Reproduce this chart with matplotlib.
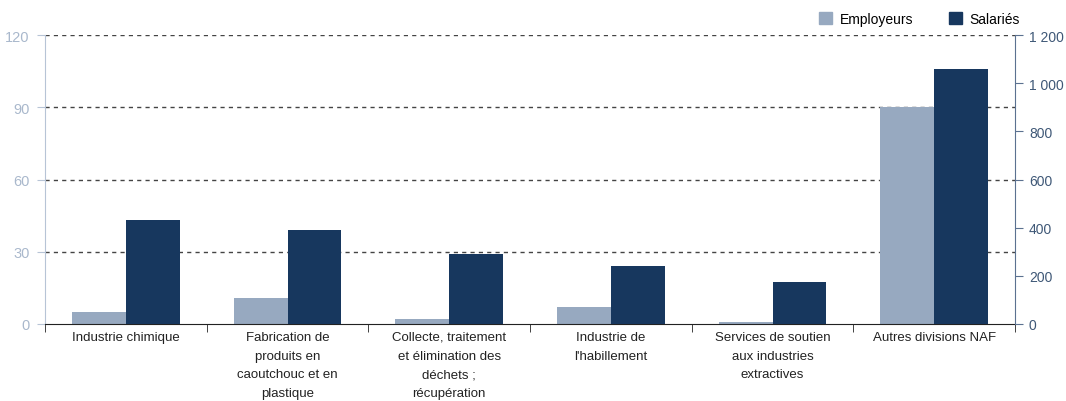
import matplotlib
matplotlib.use("Agg")
import matplotlib.pyplot as plt
import numpy as np
from matplotlib.patches import Patch

categories = ["Industrie chimique",
              "Fabrication de\nproduits en\ncaoutchouc et en\nplastique",
              "Collecte, traitement\net élimination des\ndéchets ;\nrécupération",
              "Industrie de\nl'habillement",
              "Services de soutien\naux industries\nextractives",
              "Autres divisions NAF"]
employeurs = [5, 11, 2, 7, 1, 90]
salaries = [430, 390, 290, 240, 175, 1060]
left_ticks = [0, 30, 60, 90, 120]
right_ticks = [0, 200, 400, 600, 800, 1000, 1200]
right_labels = ["0", "200", "400", "600", "800", "1 000", "1 200"]

plt.rcParams["font.family"] = ["Liberation Sans", "DejaVu Sans"]

c_emp = "#97a9c0"
c_sal = "#17375e"

fig = plt.figure(figsize=(10.66, 4.02), dpi=100)
ax = fig.add_axes([45/1066, 77/402, 970/1066, 289/402])
ax2 = ax.twinx()

x = np.arange(len(categories))
w = 1/3
ax.bar(x - w/2, employeurs, width=w, color=c_emp, zorder=3)
ax2.bar(x + w/2, salaries, width=w, color=c_sal, zorder=3)

ax.set_xlim(-0.5, len(categories) - 0.5)
ax.set_ylim(0, 120)
ax2.set_ylim(0, 1200)

ax.set_yticks(left_ticks)
ax.set_yticklabels([str(v) for v in left_ticks], color="#a9b8cc", fontsize=10.5)
ax2.set_yticks(right_ticks)
ax2.set_yticklabels(right_labels, color="#3f5877", fontsize=10)

for v in left_ticks[1:]:
    ax.axhline(v, color="#444444", lw=1, ls=(0, (3, 3)), zorder=1)

ax.set_xticks(np.arange(len(categories) + 1) - 0.5, minor=True)
ax.set_xticks(x)
ax.set_xticklabels(categories, fontsize=9.5, color="#222222", va="top", linespacing=1.75)
ax.tick_params(axis="x", which="major", length=0, pad=5)
ax.tick_params(axis="x", which="minor", length=6, direction="out", color="#222222")
ax.tick_params(axis="y", length=6, color="#b7c4d6", pad=5)
ax2.tick_params(axis="y", length=6, color="#5b7190", pad=4)

for a in (ax, ax2):
    a.spines["top"].set_visible(False)
ax.spines["left"].set_color("#b7c4d6")
ax.spines["right"].set_visible(False)
ax2.spines["left"].set_visible(False)
ax2.spines["bottom"].set_visible(False)
ax2.spines["right"].set_color("#5b7190")
ax.spines["bottom"].set_color("#222222")
ax.spines["bottom"].set_zorder(5)

handles = [Patch(color=c_emp, label="Employeurs"), Patch(color=c_sal, label="Salariés")]
fig.legend(handles=handles, loc="upper right", bbox_to_anchor=(1032/1066, 1.0), ncol=2,
           frameon=False, fontsize=10, handlelength=0.95, handleheight=0.95,
           columnspacing=2.6, handletextpad=0.5)

fig.savefig("out.png", dpi=100)
